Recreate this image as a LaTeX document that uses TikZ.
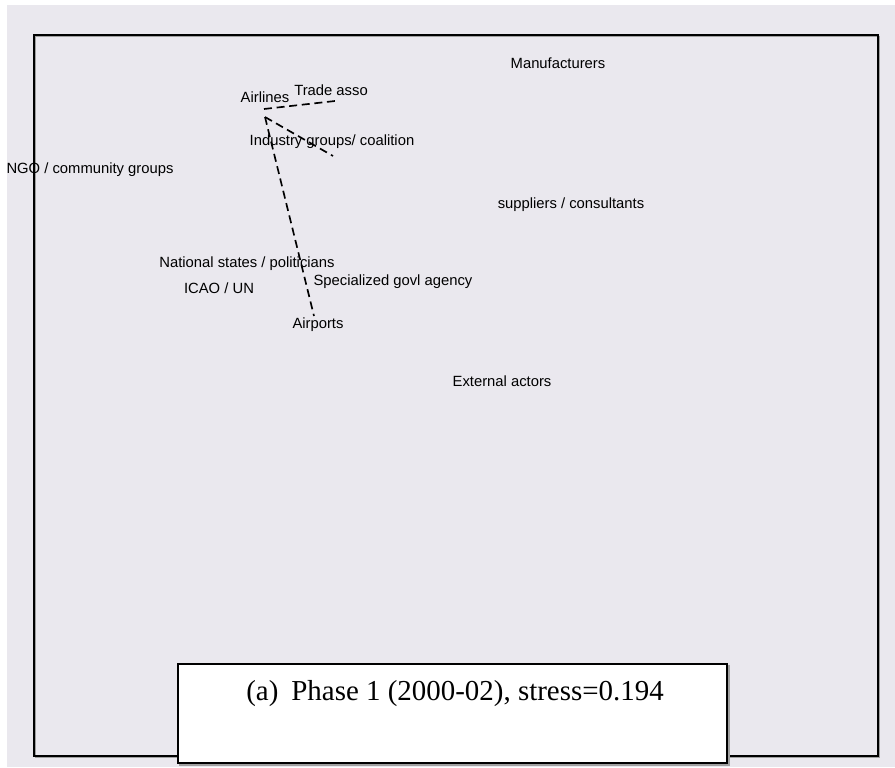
\documentclass[tikz,border=0pt]{standalone}
\usepackage{fontspec}
\setmainfont{Liberation Serif}
\newfontfamily\labelfont{Liberation Sans}
\definecolor{panel}{RGB}{234,232,238}
\definecolor{shade}{RGB}{160,160,160}
\begin{document}
\begin{tikzpicture}[x=0.75pt,y=-0.75pt,
  actor/.style={font=\labelfont\fontsize{11.1}{13}\selectfont, inner sep=0pt, anchor=center},
  tie/.style={draw=black, line width=1.25pt, dash pattern=on 6pt off 3.5pt},
  frameline/.style={draw=black, line width=1.1pt},
  shadowline/.style={draw=shade, line width=1.1pt}]
  % canvas and panel
  \useasboundingbox (0,0) rectangle (895,767);
  \fill[white] (0,0) rectangle (895,767);
  \fill[panel] (7,5) rectangle (895,767);
  % plot frame
  \draw[shadowline] (35.5,36.5) rectangle (879.5,757.5);
  \draw[frameline] (34,35) rectangle (878,756);

  % actor labels
  \node[actor] (manu) at (558,63) {Manufacturers};
  \node[actor] (trade) at (331,90) {Trade asso};
  \node[actor] (airl) at (265,97) {Airlines};
  \node[actor] (indus) at (332,142) {Industry groups/ coalition};
  \node[actor] (ngo) at (90,170) {NGO / community groups};
  \node[actor] (supp) at (571,205) {suppliers / consultants};
  \node[actor] (natl) at (247,264) {National states / politicians};
  \node[actor] (spec) at (393,282) {Specialized govl agency};
  \node[actor] (icao) at (219,288) {ICAO / UN};
  \node[actor] (airp) at (318,325) {Airports};
  \node[actor] (ext) at (502,381) {External actors};

  % plotted points of the linked actors
  \coordinate (pAirlA) at (264,109);
  \coordinate (pAirlB) at (265,117);
  \coordinate (pTrade) at (335,101);
  \coordinate (pIndus) at (333,156);
  \coordinate (pAirp) at (314,316);

  % ties between actors
  \draw[tie] (pAirlA) -- (pTrade);
  \draw[tie] (pAirlB) -- (pIndus);
  \draw[tie] (pAirlB) -- (pAirp);

  % caption box
  \draw[shadowline] (180,666) rectangle (729,765);
  \draw[frameline, fill=white] (178,664) rectangle (727,763);
  \node[inner sep=0pt, font=\fontsize{21.7}{25}\selectfont] (cap) at (455,694)
    {(a)\hspace{0.45em}Phase 1 (2000-02), stress=0.194};
\end{tikzpicture}
\end{document}
